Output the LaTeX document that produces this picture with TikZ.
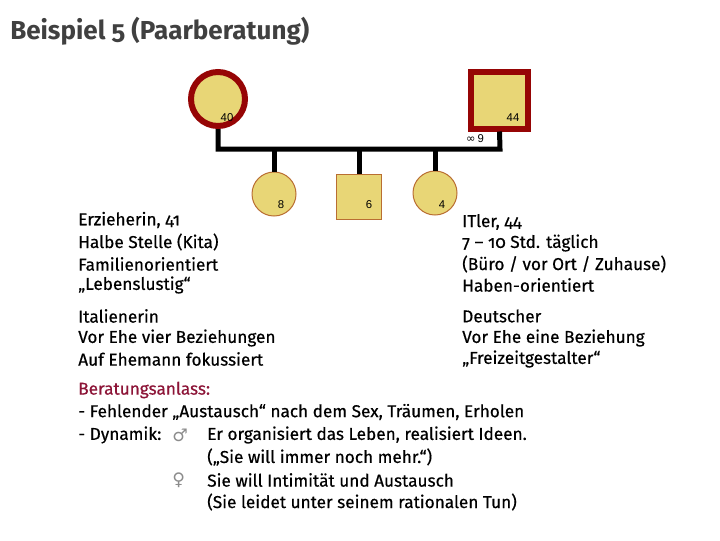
\documentclass[tikz,border=0pt]{standalone}
\usepackage{fontspec}
\setmainfont{Fira Sans}[Numbers=OldStyle]
\newfontfamily\bodyf{Fira Sans}[Numbers=OldStyle,FakeBold=0.5]
\newfontfamily\lab{Liberation Sans}
\newfontfamily\sym{DejaVu Sans}
\definecolor{pfill}{RGB}{232,214,118}
\definecolor{pred}{RGB}{150,5,5}
\definecolor{kbord}{RGB}{185,110,50}
\definecolor{titlec}{RGB}{64,64,64}
\definecolor{anlass}{RGB}{140,20,55}
\begin{document}
\begin{tikzpicture}[x=0.75pt,y=-0.75pt,
  parent/.style={draw=pred,line width=4.5pt,fill=pfill,inner sep=0pt},
  kid/.style={draw=kbord,line width=0.75pt,fill=pfill,inner sep=0pt},
  agel/.style={font=\lab\fontsize{8.5}{10}\selectfont,inner sep=0pt},
  body/.style={anchor=west,inner sep=0pt,font=\bodyf\fontsize{12.9}{16}\selectfont},
  gsym/.style={anchor=west,inner sep=0pt,text=black!45,font=\sym\fontsize{13}{16}\selectfont},
  link/.style={line width=3.75pt,black}]
\useasboundingbox (0,0) rectangle (720,540);
\node[anchor=west,inner sep=0pt,text=titlec,font=\bfseries\fontsize{19.5}{24}\selectfont] (title) at (10,31) {Beispiel 5 (Paarberatung)};
% parents
\node[parent,circle,minimum size=40.5pt] (m) at (218,99) {};
\node[parent,rectangle,minimum size=42.75pt] (f) at (499.5,100) {};
\node[agel] (ml) at (227,118) {40};
\node[agel] (fl) at (513,118) {44};
\node[agel] (mar) at (475,139) {{\sym\symbol{"221E}}\,9};
\coordinate (jr) at (500,149);
\draw[link] (m.south) -- (m.south |- jr) -- (jr) -- (f.south);
% children
\node[kid,circle,minimum size=33pt] (c1) at (274,194) {};
\node[kid,rectangle,minimum size=33.75pt] (c2) at (359,196.5) {};
\node[kid,circle,minimum size=33pt] (c3) at (435,193) {};
\node[agel] (c1l) at (281,205) {8};
\node[agel] (c2l) at (369,205) {6};
\node[agel] (c3l) at (442,205) {4};
\foreach \c in {c1,c2,c3} \draw[link] (\c.north) -- (\c.north |- jr);
% left text
\node[body] (l1) at (78,220) {Erzieherin, 41};
\node[body] (l2) at (78,242) {Halbe Stelle (Kita)};
\node[body] (l3) at (78,264) {Familienorientiert};
\node[body] (l4) at (78,285) {„Lebenslustig“};
\node[body] (l5) at (78,316) {Italienerin};
\node[body] (l6) at (78,338) {Vor Ehe vier Beziehungen};
\node[body] (l7) at (78,359) {Auf Ehemann fokussiert};
% right text
\node[body] (r1) at (462,222) {ITler, 44};
\node[body] (r2) at (462,243) {7 – 10 Std. täglich};
\node[body] (r3) at (462,264) {(Büro / vor Ort / Zuhause)};
\node[body] (r4) at (462,285) {Haben-orientiert};
\node[body] (r5) at (462,316) {Deutscher};
\node[body] (r6) at (462,338) {Vor Ehe eine Beziehung};
\node[body] (r7) at (462,359) {„Freizeitgestalter“};
% bottom
\node[body,text=anlass] (b0) at (78,390) {Beratungsanlass:};
\node[body] (b1) at (78,412) {- Fehlender „Austausch“ nach dem Sex, Träumen, Erholen};
\node[body] (b2) at (78,435) {- Dynamik:};
\node[gsym] (male) at (172,435) {♂};
\node[body] (b3) at (207,435) {Er organisiert das Leben, realisiert Ideen.};
\node[body] (b4) at (207,457) {(„Sie will immer noch mehr.“)};
\node[gsym] (female) at (172,480) {♀};
\node[body] (b5) at (207,480) {Sie will Intimität und Austausch};
\node[body] (b6) at (207,502) {(Sie leidet unter seinem rationalen Tun)};
\end{tikzpicture}
\end{document}
